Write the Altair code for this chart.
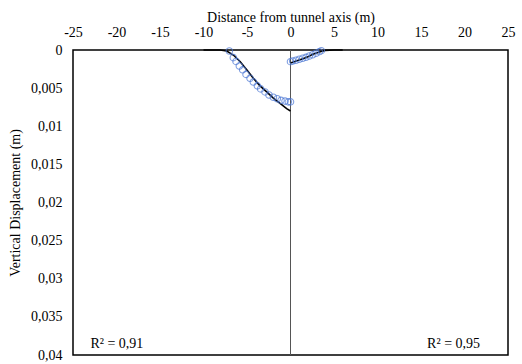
import altair as alt
import pandas as pd

# Measured points (circles)
left_x = [-7.03, -6.57, -6.26, -5.88, -5.5, -5.11, -4.65, -4.27, -3.81, -3.43, -2.93, -2.47, -1.97, -1.52, -1.09, -0.63, -0.25, 0.0]
left_y = [0.00013, 0.0010, 0.0015, 0.0021, 0.0026, 0.0032, 0.0037, 0.0042, 0.0047, 0.0051, 0.0055, 0.0059, 0.0062, 0.0064, 0.0066, 0.0067, 0.0068, 0.0068]
right_x = [0.0, 0.25, 0.63, 1.01, 1.4, 1.78, 2.16, 2.55, 2.93, 3.31, 3.54]
right_y = [0.00153, 0.00144, 0.00135, 0.00122, 0.00109, 0.00096, 0.00079, 0.00062, 0.00043, 0.00022, 0.00009]

# Fitted curves (black lines)
fitL_x = [-10.0, -8.1, -7.33, -6.57, -5.8, -5.03, -4.27, -3.5, -2.74, -1.97, -1.2, -0.44, 0.0]
fitL_y = [0.0, 0.0, 0.00013, 0.00066, 0.0015, 0.0026, 0.0037, 0.0047, 0.0055, 0.0063, 0.0070, 0.0077, 0.0080]
fitR_x = [0.0, 0.5, 1.0, 1.5, 2.0, 2.5, 3.0, 3.5, 4.0, 5.0, 6.0]
fitR_y = [0.0017, 0.0015, 0.0013, 0.0011, 0.0009, 0.0006, 0.0004, 0.0002, 0.00005, 0.0, 0.0]

# Annotations
r2_labels = ["R² = 0,91", "R² = 0,95"]
r2_x = [-23.0, 15.7]
r2_y = [0.0385, 0.0385]

x_ticks = [-25, -20, -15, -10, -5, 0, 5, 10, 15, 20, 25]
y_ticks = [0, 0.005, 0.01, 0.015, 0.02, 0.025, 0.03, 0.035, 0.04]

FONT = "Liberation Serif"

pts = pd.DataFrame({"x": left_x + right_x, "y": left_y + right_y})
fit = pd.DataFrame({
    "x": fitL_x + fitR_x,
    "y": fitL_y + fitR_y,
    "side": ["L"] * len(fitL_x) + ["R"] * len(fitR_x),
})
txt = pd.DataFrame({"x": r2_x, "y": r2_y, "t": r2_labels})
vline = pd.DataFrame({"x": [0.0]})

xs = alt.Scale(domain=[-25, 25], nice=False, zero=False)
ys = alt.Scale(domain=[0, 0.04], nice=False, reverse=True)

common = dict(ticks=False, grid=False, domain=False, labelFlush=False,
              labelFont=FONT, titleFont=FONT, labelFontSize=14, titleFontSize=14,
              titleFontWeight="normal", labelColor="black", titleColor="black")
xaxis = alt.Axis(orient="top", values=x_ticks, title="Distance from tunnel axis (m)",
                 labelExpr="'' + datum.value",
                 labelPadding=11, titlePadding=1, **common)
yaxis = alt.Axis(values=y_ticks, title="Vertical Displacement (m)",
                 labelExpr="replace('' + datum.value, '.', ',')",
                 labelPadding=11, titlePadding=8, **common)

rule = alt.Chart(vline).mark_rule(color="#555555", strokeWidth=1).encode(
    x=alt.X("x:Q", scale=xs, axis=xaxis)
)

points = alt.Chart(pts).mark_point(shape="circle", filled=False, color="#4a76d4",
                                   size=42, strokeWidth=1.1).encode(
    x=alt.X("x:Q", scale=xs, axis=xaxis),
    y=alt.Y("y:Q", scale=ys, axis=yaxis),
)

lines = alt.Chart(fit).mark_line(color="black", strokeWidth=1.6).encode(
    x=alt.X("x:Q", scale=xs, axis=xaxis),
    y=alt.Y("y:Q", scale=ys, axis=yaxis),
    detail="side:N",
)

labels = alt.Chart(txt).mark_text(align="left", baseline="middle", font=FONT,
                                  fontSize=14, color="black").encode(
    x=alt.X("x:Q", scale=xs, axis=xaxis),
    y=alt.Y("y:Q", scale=ys, axis=yaxis),
    text="t:N",
)

chart = alt.layer(rule, lines, points, labels).properties(
    width=435, height=305,
    autosize=alt.AutoSizeParams(type="none"),
    padding={"left": 73, "top": 50, "right": 14, "bottom": 9},
    background="white",
).configure_view(
    stroke="black", strokeWidth=1.5
).configure_axis(
    labelFont=FONT, titleFont=FONT
)

chart.save("out.html", embed_options={"renderer": "svg", "actions": False})
